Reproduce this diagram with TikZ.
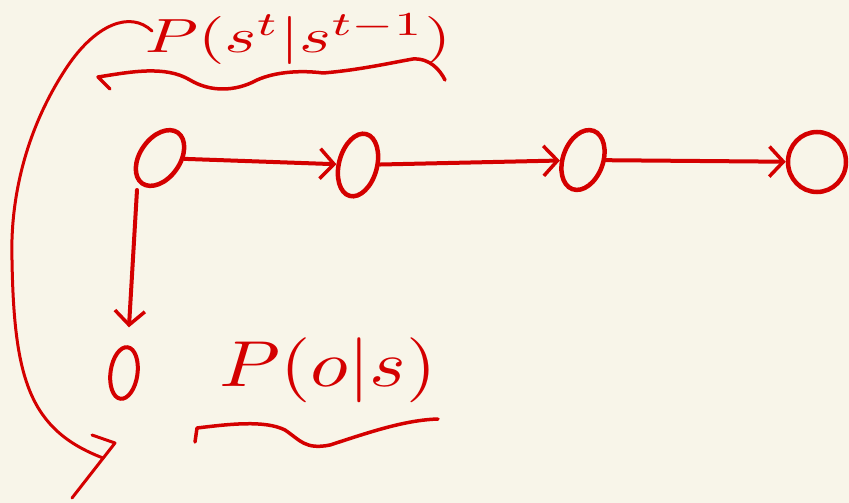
\documentclass[tikz,border=0pt]{standalone}
\usetikzlibrary{shapes.geometric,arrows.meta}
\definecolor{bg}{HTML}{F8F5E9}
\definecolor{ink}{HTML}{D40000}
\tikzset{
  obs/.style={draw=ink,ellipse,line width=4.5pt,inner sep=0pt},
  conn/.style={draw=ink,line width=4pt,line cap=round,line join=round,
    -{Straight Barb[length=14pt,width=30pt,line width=3.5pt]}},
  pen/.style={draw=ink,line width=3.5pt,line cap=round,line join=round},
  lbl/.style={text=ink,inner sep=0pt}
}
\begin{document}
\begin{tikzpicture}[x=1pt,y=-1pt]
\fill[bg] (0,0) rectangle (849,503);
\useasboundingbox (0,0) rectangle (849,503);
% state nodes
\node[obs,minimum width=40pt,minimum height=62pt,rotate=-35] (n1) at (160,158) {};
\node[obs,minimum width=38pt,minimum height=64pt,rotate=-15] (n2) at (358,165) {};
\node[obs,minimum width=40pt,minimum height=62pt,rotate=-20] (n3) at (583,160) {};
\node[obs,minimum width=58pt,minimum height=60pt] (n4) at (817,162) {};
\node[obs,line width=4pt,minimum width=27pt,minimum height=52pt,rotate=-8] (n5) at (124,373) {};
% transitions
\draw[conn] (n1) -- (n2);
\draw[conn] (n2) -- (n3);
\draw[conn] (n3) -- (n4);
\coordinate (vstart) at (137,190);
\draw[conn,shorten >=18pt] (vstart) -- (n5.north);
% labels
\node[lbl,xscale=6.8,yscale=4.8] (top) at (298,39) {$P(s^t|s^{t-1})$};
\node[lbl,xscale=7.8,yscale=6.5] (bot) at (328,370) {$P(o|s)$};
% braces
\draw[pen] (110,89) -- (98,77) .. controls (130,72) and (165,65) .. (190,80)
  .. controls (210,92) and (235,92) .. (257,80)
  .. controls (275,72) and (300,70) .. (323,73)
  .. controls (360,70) and (395,62) .. (413,59)
  .. controls (430,58) and (440,70) .. (445,80);
\draw[pen] (195,442) -- (197,428) .. controls (230,424) and (265,420) .. (285,430)
  .. controls (300,440) and (305,450) .. (330,445)
  .. controls (370,432) and (405,420) .. (438,419);
% long arrow
\coordinate (cs) at (152,31);
\coordinate (ce) at (103,458);
\coordinate (ht) at (115,443);
\draw[pen,line width=3pt] (cs) .. controls (130,10) and (95,25) .. (67,67)
  .. controls (25,130) and (10,200) .. (12,260)
  .. controls (14,380) and (30,430) .. (ce);
\draw[pen,line width=3pt] (92,435) -- (ht) -- (72,498);
\end{tikzpicture}
\end{document}
